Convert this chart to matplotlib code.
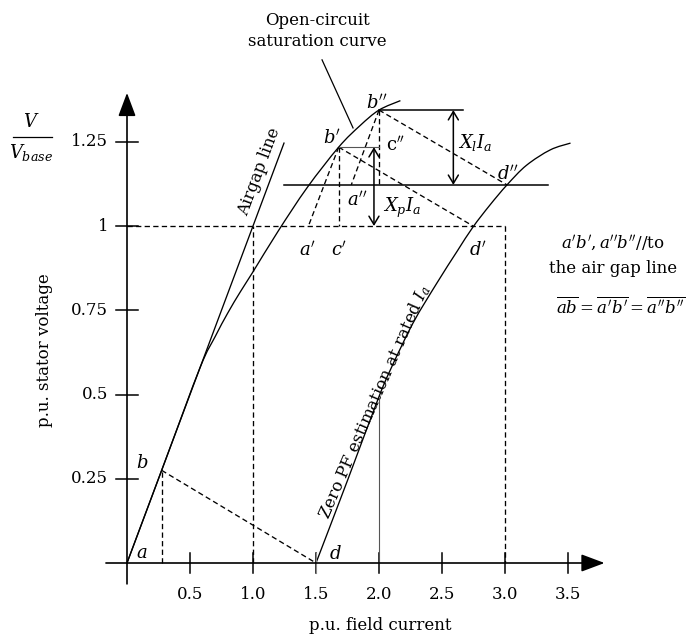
import numpy as np
import matplotlib
matplotlib.use("Agg")
import matplotlib.pyplot as plt
from matplotlib.path import Path
from matplotlib.patches import PathPatch

plt.rcParams['font.family'] = ['DejaVu Serif', 'DejaVu Sans']
plt.rcParams['mathtext.fontset'] = 'dejavuserif'

# ---- data (p.u. field current, p.u. stator voltage)
occ_i = [0, 0.3, 0.58, 0.7, 0.8, 0.9, 1.0, 1.2, 1.43, 1.68, 1.85, 2.0, 2.17]
occ_v = [0, 0.3, 0.58, 0.672, 0.742, 0.805, 0.864, 0.985, 1.114, 1.234, 1.298, 1.344, 1.372]

zpf_i = [1.5, 1.75, 1.99, 2.09, 2.27, 2.46, 2.62, 2.746, 2.88, 3.016, 3.17, 3.36, 3.52]
zpf_v = [0, 0.245, 0.484, 0.573, 0.712, 0.831, 0.925, 0.997, 1.062, 1.122, 1.18, 1.226, 1.246]

airgap_i = [0, 1.246]
airgap_v = [0, 1.246]

# construction points
pt_b = (0.275, 0.275)
pt_d = (1.5, 0.0)
pt_a1 = (1.44, 1.0)      # a'
pt_c1 = (1.68, 1.0)      # c'
pt_b1 = (1.68, 1.234)    # b'
pt_d1 = (2.746, 1.0)     # d'
pt_a2 = (1.78, 1.122)    # a''
pt_b2 = (2.0, 1.344)     # b''
pt_c2 = (2.0, 1.122)
pt_d2 = (3.016, 1.122)   # d''
v_rated = 1.0
i_rect = 3.0
v_line2 = 1.122
xp_x = 1.96
xl_x = 2.59

xticks = [0.5, 1.0, 1.5, 2.0, 2.5, 3.0, 3.5]
xticklabels = ['0.5', '1.0', '1.5', '2.0', '2.5', '3.0', '3.5']
yticks = [0.25, 0.5, 0.75, 1.0, 1.25]
yticklabels = ['0.25', '0.5', '0.75', '1', '1.25']


def smooth_curve(ax, xs, ys, **kw):
    # Catmull-Rom through the read points, drawn as cubic Bezier path
    p = np.column_stack([xs, ys])
    verts = [p[0]]
    codes = [Path.MOVETO]
    for k in range(len(p) - 1):
        p0 = p[k - 1] if k > 0 else p[k]
        p3 = p[k + 2] if k + 2 < len(p) else p[k + 1]
        c1 = p[k] + (p[k + 1] - p0) / 6
        c2 = p[k + 1] - (p3 - p[k]) / 6
        verts += [c1, c2, p[k + 1]]
        codes += [Path.CURVE4] * 3
    ax.add_patch(PathPatch(Path(verts, codes), fill=False, **kw))


# ---- figure: one axes filling the canvas, drawn by hand
fig = plt.figure(figsize=(6.89, 6.40), dpi=100)
ax = fig.add_axes([0, 0, 1, 1])
ax.set_xlim(-127 / 126, (689 - 127) / 126)
ax.set_ylim(-77 / 337, 563 / 337)
ax.axis('off')

lw = 0.95
dash = (0, (4, 2.5))
fs = 12

# axes with arrows
for tip, tail in [((3.79, 0), (-0.167, 0)), ((0, 1.395), (0, -0.062))]:
    ax.annotate('', xy=tip, xytext=tail,
                arrowprops=dict(arrowstyle='-|>,head_length=0.8,head_width=0.3',
                                mutation_scale=18, lw=1.2, color='black',
                                shrinkA=0, shrinkB=0))
for t, lab in zip(xticks, xticklabels):
    ax.plot([t, t], [-0.03, 0.03], color='black', lw=1.1)
    ax.text(t, -0.093, lab, ha='center', va='center', fontsize=fs)
for t, lab in zip(yticks, yticklabels):
    ax.plot([-0.087, 0.087], [t, t], color='black', lw=1.1)
    ax.text(-0.15, t, lab, ha='right', va='center', fontsize=fs)

ax.text(2.008, -0.184, 'p.u. field current', ha='center', va='center', fontsize=fs)
ax.text(-0.651, 0.632, 'p.u. stator voltage', ha='center', va='center',
        rotation=90, fontsize=fs)
ax.text(-0.762, 1.31, '$V$', ha='center', va='center', fontsize=fs + 1)
ax.plot([-0.905, -0.595], [1.264, 1.264], color='black', lw=0.9)
ax.text(-0.762, 1.218, '$V_{base}$', ha='center', va='center', fontsize=fs + 1)

# curves
ax.plot(airgap_i, airgap_v, color='black', lw=lw)
smooth_curve(ax, occ_i, occ_v, color='black', lw=lw)
smooth_curve(ax, zpf_i, zpf_v, color='black', lw=lw)

# dashed construction lines
dashed = [
    ([pt_b[0], pt_b[0]], [0, pt_b[1]]),
    ([pt_b[0], pt_d[0]], [pt_b[1], pt_d[1]]),
    ([1.0, 1.0], [0, v_rated]),
    ([0, i_rect], [v_rated, v_rated]),
    ([i_rect, i_rect], [v_rated, 0]),
    ([pt_b1[0], pt_a1[0]], [pt_b1[1], pt_a1[1]]),
    ([pt_b1[0], pt_c1[0]], [pt_b1[1], pt_c1[1]]),
    ([pt_b1[0], pt_d1[0]], [pt_b1[1], pt_d1[1]]),
    ([pt_b2[0], pt_a2[0]], [pt_b2[1], pt_a2[1]]),
    ([pt_b2[0], pt_c2[0]], [pt_b2[1], pt_c2[1]]),
    ([pt_b2[0], pt_d2[0]], [pt_b2[1], pt_d2[1]]),
]
for xs, ys in dashed:
    ax.plot(xs, ys, color='black', lw=lw, linestyle=dash)

# solid helper lines
ax.plot([1.246, 3.34], [v_line2, v_line2], color='black', lw=1.1)
ax.plot([pt_b2[0], 2.667], [pt_b2[1], pt_b2[1]], color='black', lw=1.1)
ax.plot([pt_b1[0], 2.0], [pt_b1[1], pt_b1[1]], color='#555555', lw=0.8)
ax.plot([2.0, 2.0], [0, zpf_v[2]], color='#555555', lw=0.8)
ax.plot([1.5, 1.5], [-0.03, 0.03], color='#888888', lw=0.8)
ax.plot([1.548, 1.794], [1.493, 1.291], color='black', lw=0.9)

# double arrows
for x0, y0, y1 in [(xp_x, v_rated, pt_b1[1]), (xl_x, v_line2, pt_b2[1])]:
    ax.annotate('', xy=(x0, y1), xytext=(x0, y0),
                arrowprops=dict(arrowstyle='<->,head_length=0.5,head_width=0.3',
                                mutation_scale=12, lw=1.1, color='black',
                                shrinkA=0, shrinkB=0))

# labels
it = dict(fontsize=fs + 1, ha='center', va='center')
ax.text(0.119, 0.03, '$a$', **it)
ax.text(0.119, 0.297, '$b$', **it)
ax.text(1.65, 0.027, '$d$', **it)
ax.text(1.43, 0.929, "$a'$", **it)
ax.text(1.68, 0.929, "$c'$", **it)
ax.text(1.825, 1.077, "$a''$", **it)
ax.text(1.627, 1.261, "$b'$", **it)
ax.text(1.984, 1.365, "$b''$", **it)
ax.text(2.79, 0.929, "$d'$", **it)
ax.text(3.02, 1.155, "$d''$", **it)
ax.text(2.135, 1.24, r"$\mathrm{c}''$", **it)
ax.text(2.03, 1.053, '$X_pI_a$', fontsize=fs + 1, ha='left', va='center')
ax.text(2.63, 1.249, '$X_lI_a$', fontsize=fs + 1, ha='left', va='center')

ax.text(1.51, 1.579, 'Open-circuit\nsaturation curve', ha='center', va='center',
        fontsize=fs, linespacing=1.25)
ax.text(1.05, 1.16, 'Airgap line', ha='center', va='center', rotation=69.5,
        fontsize=fs)
ax.text(1.962, 0.478, 'Zero PF estimation at rated $I_a$', ha='center', va='center',
        rotation=66.5, fontsize=fs)

ax.text(3.857, 0.95, "$a'b', a''b''$//to", ha='center', va='center', fontsize=fs)
ax.text(3.857, 0.875, 'the air gap line', ha='center', va='center', fontsize=fs)
ax.text(3.92, 0.757, r"$\overline{ab}=\overline{a'b'}=\overline{a''b''}$",
        ha='center', va='center', fontsize=fs)

fig.savefig('out.png', dpi=100)
